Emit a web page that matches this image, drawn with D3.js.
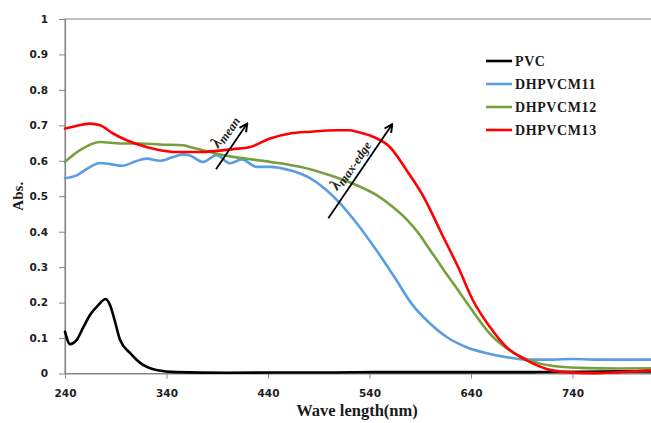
<!DOCTYPE html>
<html>
<head>
<meta charset="utf-8">
<script src="https://cdn.jsdelivr.net/npm/d3@7/dist/d3.min.js"></script>
<style>
  html, body { margin: 0; padding: 0; background: #fff; }
  svg { display: block; }
</style>
</head>
<body>
<svg id="chart" width="651" height="423"></svg>
<script>
// UV-Vis absorbance spectra: wavelength (nm) and absorbance
const seriesNames = ["PVC", "DHPVCM11", "DHPVCM12", "DHPVCM13"];
const seriesColors = ["#000000", "#5b9de0", "#77a03c", "#ff0000"];

const pvcWave = [240, 245, 251.5, 258, 264.6, 272.8, 280, 284.3, 289.3, 294.2, 304, 314, 330, 350, 400, 450, 500, 550, 600, 650, 700, 750, 800, 840];
const pvcAbs  = [0.118, 0.083, 0.095, 0.13, 0.165, 0.193, 0.21, 0.193, 0.146, 0.095, 0.058, 0.03, 0.01, 0.004, 0.002, 0.003, 0.003, 0.004, 0.004, 0.004, 0.004, 0.005, 0.006, 0.006];

const m11Wave = [240, 251.5, 262, 274.5, 286, 297, 309, 320.5, 333.6, 345, 356.3, 363, 376, 389.5, 402.6, 414, 428.9, 442, 461.7, 481.4, 497.8, 511, 527.4, 547, 565, 582, 599.6, 616, 635.8, 655.5, 675, 695, 720, 740, 760, 800, 840];
const m11Abs  = [0.551, 0.559, 0.578, 0.594, 0.59, 0.586, 0.598, 0.606, 0.60, 0.609, 0.618, 0.615, 0.597, 0.616, 0.593, 0.604, 0.583, 0.583, 0.573, 0.551, 0.517, 0.48, 0.424, 0.347, 0.27, 0.195, 0.141, 0.103, 0.074, 0.057, 0.046, 0.039, 0.039, 0.041, 0.039, 0.039, 0.039];

const m12Wave = [240, 254.8, 274.5, 294.2, 314, 333.6, 356.3, 363, 373, 389.5, 405.5, 419, 442, 471.5, 501, 527.4, 547, 563, 576.6, 589.8, 596.4, 606, 612.4, 622.3, 639, 658.7, 678.4, 698, 720.8, 747.4, 786.8, 840];
const m12Abs  = [0.597, 0.63, 0.653, 0.649, 0.649, 0.646, 0.644, 0.639, 0.632, 0.62, 0.611, 0.606, 0.597, 0.583, 0.559, 0.531, 0.503, 0.47, 0.435, 0.39, 0.362, 0.322, 0.295, 0.255, 0.187, 0.112, 0.065, 0.037, 0.021, 0.016, 0.014, 0.015];

const m13Wave = [240, 247.9, 264.6, 274.5, 287.3, 300.8, 317, 333.6, 350, 373, 389.5, 405.5, 422.3, 442, 461.7, 481.4, 507.7, 520.8, 527.4, 543.4, 560, 576.6, 594, 611, 628, 642, 658.7, 675, 695, 714.6, 734.3, 760, 786.8, 813, 840];
const m13Abs  = [0.691, 0.696, 0.705, 0.70, 0.677, 0.658, 0.642, 0.63, 0.625, 0.625, 0.628, 0.633, 0.639, 0.663, 0.677, 0.682, 0.686, 0.686, 0.682, 0.668, 0.639, 0.573, 0.495, 0.395, 0.296, 0.206, 0.131, 0.074, 0.037, 0.013, 0.004, 0.001, 0.004, 0.008, 0.012];

const xTicks = [240, 340, 440, 540, 640, 740];
const yTicks = [0, 0.1, 0.2, 0.3, 0.4, 0.5, 0.6, 0.7, 0.8, 0.9, 1];

// Trend arrows, in data units: [x0, y0, x1, y1]
const meanArrow = [388.8, 0.576, 419, 0.703];
const edgeArrow = [499.4, 0.438, 561.9, 0.701];

const seriesData = [
  pvcWave.map((w, i) => ({ x: w, y: pvcAbs[i] })),
  m11Wave.map((w, i) => ({ x: w, y: m11Abs[i] })),
  m12Wave.map((w, i) => ({ x: w, y: m12Abs[i] })),
  m13Wave.map((w, i) => ({ x: w, y: m13Abs[i] }))
];

const svg = d3.select("#chart");
const x = d3.scaleLinear().domain([240, 840]).range([65, 674]);
const y = d3.scaleLinear().domain([0, 1]).range([373.5, 19]);

const axisColor = "#868686";
const tickFont = "'DejaVu Sans', Verdana, sans-serif";
const serif = "'Liberation Serif', 'Times New Roman', serif";

// plot frame (top edge, right edge runs off the page)
svg.append("rect")
  .attr("x", x(240)).attr("y", y(1))
  .attr("width", x(840) - x(240)).attr("height", y(0) - y(1))
  .attr("fill", "none").attr("stroke", axisColor).attr("stroke-width", 1);

// axes
const gx = svg.append("g").attr("transform", `translate(0,${y(0)})`)
  .call(d3.axisBottom(x).tickValues(xTicks).tickSize(5).tickSizeOuter(0).tickFormat(d3.format("d")));
const gy = svg.append("g").attr("transform", `translate(${x(240)},0)`)
  .call(d3.axisLeft(y).tickValues(yTicks).tickSize(6).tickSizeOuter(0).tickFormat(d => d === 0 || d === 1 ? String(d) : d3.format(".1f")(d)));

[gx, gy].forEach(g => {
  g.select(".domain").attr("stroke", axisColor).attr("stroke-width", 1.2);
  g.selectAll(".tick line").attr("stroke", axisColor);
  g.selectAll(".tick text")
    .attr("fill", "#1e1e1e")
    .style("font-family", tickFont)
    .style("font-weight", "bold")
    .style("font-size", "10.5px");
});
gx.selectAll(".tick text").attr("dy", "0").attr("y", 23);
gy.selectAll(".tick text").attr("x", -17);

// series lines
const line = d3.line().x(d => x(d.x)).y(d => y(d.y)).curve(d3.curveMonotoneX);
const plot = svg.append("g");
seriesData.forEach((pts, i) => {
  plot.append("path")
    .datum(pts)
    .attr("d", line)
    .attr("fill", "none")
    .attr("stroke", seriesColors[i])
    .attr("stroke-width", 2.6)
    .attr("stroke-linejoin", "round")
    .attr("stroke-linecap", "round");
});

// axis titles
svg.append("text")
  .attr("x", 357).attr("y", 416)
  .attr("text-anchor", "middle")
  .style("font-family", serif).style("font-weight", "bold").style("font-size", "16.5px")
  .attr("fill", "#1a1a1a")
  .text("Wave length(nm)");

svg.append("text")
  .attr("transform", `translate(23,${y(0.5)}) rotate(-90)`)
  .attr("text-anchor", "middle")
  .style("font-family", serif).style("font-weight", "bold").style("font-size", "15px")
  .attr("fill", "#1a1a1a")
  .text("Abs.");

// legend
const legend = svg.append("g").attr("transform", "translate(486,61)");
seriesNames.forEach((name, i) => {
  const row = legend.append("g").attr("transform", `translate(0,${i * 23})`);
  row.append("line").attr("x1", 0).attr("x2", 26).attr("y1", 0).attr("y2", 0)
    .attr("stroke", seriesColors[i]).attr("stroke-width", 2.6);
  row.append("text").attr("x", 29).attr("y", 5)
    .style("font-family", serif).style("font-weight", "bold").style("font-size", "14px")
    .style("letter-spacing", "0.6px")
    .attr("fill", "#1a1a1a")
    .text(name);
});

// arrow marker
svg.append("defs").append("marker")
  .attr("id", "arrowHead").attr("viewBox", "0 0 10 10")
  .attr("refX", 8).attr("refY", 5)
  .attr("markerWidth", 5.5).attr("markerHeight", 5.5)
  .attr("orient", "auto")
  .append("path").attr("d", "M1,1 L9,5 L1,9").attr("fill", "none")
  .attr("stroke", "#000").attr("stroke-width", 2);

function drawArrow(a, label, sub, offset) {
  const x0 = x(a[0]), y0 = y(a[1]), x1 = x(a[2]), y1 = y(a[3]);
  svg.append("line")
    .attr("x1", x0).attr("y1", y0).attr("x2", x1).attr("y2", y1)
    .attr("stroke", "#000").attr("stroke-width", 1.8)
    .attr("marker-end", "url(#arrowHead)");
  const ang = Math.atan2(y1 - y0, x1 - x0) * 180 / Math.PI;
  const mx = (x0 + x1) / 2, my = (y0 + y1) / 2;
  const t = svg.append("text")
    .attr("transform", `translate(${mx},${my}) rotate(${ang}) translate(${offset[0]},${offset[1]})`)
    .attr("text-anchor", "middle")
    .style("font-family", serif).style("font-style", "italic").style("font-weight", "bold")
    .style("font-size", "16px").attr("fill", "#222");
  t.append("tspan").text(label);
  t.append("tspan").attr("dy", 3).style("font-size", "12.5px").text(sub);
}
drawArrow(meanArrow, "λ", "mean", [9, -10]);
drawArrow(edgeArrow, "λ", "max-edge", [0, -8]);
</script>
</body>
</html>
